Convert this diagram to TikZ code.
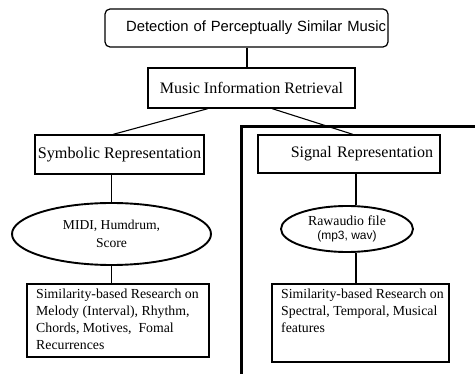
\documentclass[tikz,border=0pt]{standalone}
\usepackage{fontspec}
\setmainfont{Liberation Serif}
\newfontfamily\arialf{Liberation Sans}
\usetikzlibrary{shapes.geometric}
\tikzset{
  boxn/.style={draw, line width=1.2pt, inner sep=0pt, fill=white},
  ellipsen/.style={draw, ellipse, line width=1.9pt, inner sep=0pt, fill=white, align=center},
  conn/.style={line width=1.1pt},
  txt/.style={font=\fontsize{13.8}{16.8}\selectfont, align=left, inner sep=0pt, anchor=north west}
}
\begin{document}
\begin{tikzpicture}[x=1pt,y=-1pt]
\useasboundingbox (0,0) rectangle (475,374);
\clip (0,0) rectangle (475,374);
% thick frame
\draw[line width=3pt] (241.5,380) -- (241.5,126.5) -- (480,126.5);
% top
\node[boxn, rounded corners=5pt, minimum width=283pt, minimum height=38pt, text width=279pt, inner xsep=2pt, align=right,
  font=\arialf\fontsize{14.8}{16}\selectfont] (top) at (246.5,28) {Detection of Perceptually Similar Music};
\node[boxn, minimum width=207pt, minimum height=40pt, font=\fontsize{16}{17}\selectfont] (mir) at (251.5,88) {Music Information Retrieval};
\node[boxn, minimum width=169pt, minimum height=39pt, font=\fontsize{16.2}{17}\selectfont] (sym) at (119.5,154.5) {Symbolic Representation};
\node[boxn, minimum width=182pt, minimum height=38pt, font=\fontsize{16}{17}\selectfont, text width=168pt, inner xsep=7pt, align=right] (sig) at (349,154) {Signal Representation};
\node[ellipsen, minimum width=199pt, minimum height=62pt, font=\fontsize{13.6}{18}\selectfont] (lel) at (111.5,234) {MIDI, Humdrum,\\Score};
\node[ellipsen, minimum width=132pt, minimum height=46pt, font=\fontsize{13.8}{13.5}\selectfont] (rel) at (347,229) {Rawaudio file\\{\arialf\fontsize{12}{12}\selectfont (mp3, wav)}};
\node[boxn, minimum width=182pt, minimum height=73pt] (lbx) at (118,320.5) {};
\node[boxn, minimum width=177pt, minimum height=78pt] (rbx) at (360.5,323) {};
\node[txt] (lbt) at (36,289) {Similarity-based Research on\\Melody (Interval), Rhythm,\\Chords, Motives,\ \ Fomal\\Recurrences};
\node[txt] (rbt) at (281,289) {Similarity-based Research on\\Spectral, Temporal, Musical\\features};
% connectors
\draw[conn] (top.south -| 247,0) -- (mir.north -| 247,0);
\draw[conn] (mir.south -| 208,0) -- (sym.north -| 113,0);
\draw[conn] (mir.south -| 272,0) -- (sig.north -| 353,0);
\draw[conn] (sym.south -| 111.5,0) -- (lel.north);
\draw[conn] (lel.south) -- (lbx.north -| 111.5,0);
\draw[conn] (sig.south -| 356,0) -- (rel.north -| 356,0);
\draw[conn] (rel.south -| 356,0) -- (rbx.north -| 356,0);
\end{tikzpicture}
\end{document}
